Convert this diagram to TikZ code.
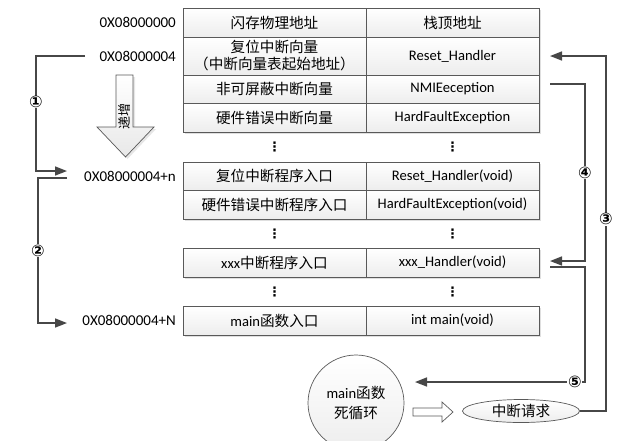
\documentclass[tikz,border=0pt]{standalone}
\usepackage{fontspec}
\setmainfont{Carlito}
\newfontfamily\cjk{Noto Sans CJK SC}
\newfontfamily\sym{DejaVu Sans}
\usepackage{tikz}
\usetikzlibrary{positioning,arrows.meta,shapes.geometric,shadows}
\tikzset{
    cell/.style={draw=black!65, line width=0.7pt, outer sep=0pt, inner sep=2pt,
        top color=white, bottom color=gray!14, align=center,
        drop shadow={shadow xshift=2pt, shadow yshift=-2pt, opacity=0.25},
        font=\fontsize{14.6pt}{17pt}\selectfont},
    lcell/.style={cell, minimum width=183pt},
    rcell/.style={cell, minimum width=173pt},
    addr/.style={inner sep=2pt, font=\fontsize{15pt}{17pt}\selectfont},
    dots/.style={inner sep=0pt, font=\sym\bfseries\fontsize{13pt}{13pt}\selectfont},
    line/.style={draw=black!72, line width=1.6pt},
    arr/.style={line, -{Triangle[length=12pt,width=9pt]}},
    num/.style={fill=white, inner sep=0.6pt, font=\sym\bfseries\fontsize{16pt}{16pt}\selectfont}
}
\begin{document}
\begin{tikzpicture}[x=1pt, y=-1pt]
    \useasboundingbox (0,0) rectangle (628,440);

    \node[lcell, minimum height=29pt] (cn1) at (274.5,22.5) {\cjk 闪存物理地址};
    \node[lcell, minimum height=38pt, below=0pt of cn1] (cn2) {\cjk 复位中断向量\\\cjk （中断向量表起始地址）};
    \node[lcell, minimum height=28pt, below=0pt of cn2] (cn3) {\cjk 非可屏蔽中断向量};
    \node[lcell, minimum height=29pt, below=0pt of cn3] (cn4) {\cjk 硬件错误中断向量};
    \node[lcell, minimum height=28pt] (cn5) at (274.5,176) {\cjk 复位中断程序入口};
    \node[lcell, minimum height=29pt, below=0pt of cn5] (cn6) {\cjk 硬件错误中断程序入口};
    \node[lcell, minimum height=29pt] (cn7) at (274.5,262.5) {xxx{\cjk 中断程序入口}};
    \node[lcell, minimum height=29pt] (cn8) at (274.5,320.5) {main{\cjk 函数入口}};

    \node[rcell, minimum height=29pt, right=0pt of cn1] (fn1) {\cjk 栈顶地址};
    \node[rcell, minimum height=38pt, right=0pt of cn2] (fn2) {Reset\_Handler};
    \node[rcell, minimum height=28pt, right=0pt of cn3] (fn3) {NMIEeception};
    \node[rcell, minimum height=29pt, right=0pt of cn4] (fn4) {HardFaultException};
    \node[rcell, minimum height=28pt, right=0pt of cn5] (fn5) {Reset\_Handler(void)};
    \node[rcell, minimum height=29pt, right=0pt of cn6] (fn6) {HardFaultException(void)};
    \node[rcell, minimum height=29pt, right=0pt of cn7] (fn7) {xxx\_Handler(void)};
    \node[rcell, minimum height=29pt, right=0pt of cn8] (fn8) {int main(void)};

    \node[dots] (dl1) at (274.5,147) {⋮};
    \node[dots] (dr1) at (452.5,147) {⋮};
    \node[dots] (dl2) at (274.5,234) {⋮};
    \node[dots] (dr2) at (452.5,234) {⋮};
    \node[dots] (dl3) at (274.5,292) {⋮};
    \node[dots] (dr3) at (452.5,292) {⋮};

    \node[addr, left=5pt of cn1] (ad1) {0X08000000};
    \node[addr, left=5pt of cn2] (ad2) {0X08000004};
    \node[addr, left=5pt of cn5] (ad3) {0X08000004+n};
    \node[addr, left=5pt of cn8] (ad4) {0X08000004+N};

    \draw[black!65, line width=0.7pt, top color=white, bottom color=gray!18,
        drop shadow={shadow xshift=2pt, shadow yshift=-2pt, opacity=0.2}]
        (116,75) -- (133,75) -- (133,127) -- (154,127) -- (125.5,157)
        -- (97,127) -- (116,127) -- cycle;
    \node[rotate=90, inner sep=0pt, font=\cjk\fontsize{13pt}{13pt}\selectfont] (inc) at (124.5,116) {递增};

    \node[circle, draw=black!65, line width=0.7pt, minimum size=96pt, align=center,
        top color=white, bottom color=gray!14,
        font=\fontsize{14.6pt}{20pt}\selectfont] (loop) at (356,403) {main{\cjk 函数}\\{\cjk 死循环}};
    \node[ellipse, draw=black!65, line width=0.7pt, minimum width=117pt, minimum height=23pt,
        top color=white, bottom color=gray!14, inner sep=0pt,
        font=\cjk\fontsize{14.6pt}{17pt}\selectfont] (irq) at (521,411) {中断请求};
    \draw[black!65, line width=0.7pt, fill=white]
        (413,408) -- (442,408) -- (442,402) -- (453,412) -- (442,422)
        -- (442,416) -- (413,416) -- cycle;

    \coordinate (b1s) at (85,56);
    \coordinate (b1e) at (67,171);
    \coordinate (b2s) at (67,178);
    \coordinate (b2e) at (67,323);
    \draw[arr] (b1s) -- ++(-49,0) |- node[num, pos=0.2] {①} (b1e);
    \draw[arr] (b2s) -- ++(-29,0) |- node[num, pos=0.25] {②} (b2e);

    \coordinate (r3e) at ([xshift=11pt]fn2.east);
    \coordinate (r4s) at ([xshift=11pt,yshift=5pt]fn3.east);
    \coordinate (r4e) at ([xshift=11pt,yshift=1.5pt]fn7.east);
    \coordinate (r5s) at ([xshift=11pt,yshift=-4.5pt]fn7.east);
    \coordinate (r5e) at (415,382);
    \draw[arr] (irq.east) -- ++(26,0) |- node[num, pos=0.27] {③} (r3e);
    \draw[arr] (r4s) -- ++(35,0) |- node[num, pos=0.25] {④} (r4e);
    \draw[arr] (r5s) -- ++(35,0) |- node[num, pos=0.53] {⑤} (r5e);
\end{tikzpicture}
\end{document}
